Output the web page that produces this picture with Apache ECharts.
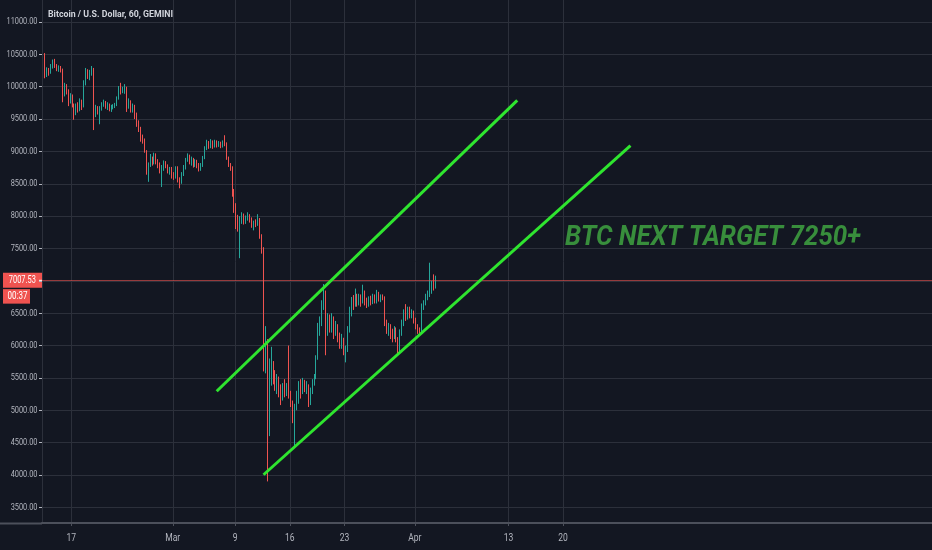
<!DOCTYPE html>
<html><head><meta charset="utf-8">
<script src="https://cdn.jsdelivr.net/npm/echarts@6/dist/echarts.min.js"></script>
<style>html,body{margin:0;padding:0;background:#131722}#c{width:932px;height:550px}</style>
</head><body><div id="c"></div>
<script>
// ---- data (6-hour candles) ----
const axisStartUTC = Date.UTC(2020, 1, 13, 6);
const stepHours = 6;
const categoryCount = 456;
const firstCandle = '02-13 12:00';

const opens = [
10380,10180,10250,10220,10310,10380,10330,10270,10290,10260,
9900,10010,9930,9780,9850,9720,9600,9700,9650,9760,
9700,10050,10240,10180,10230,10270,9600,9680,9620,9660,
9730,9760,9700,9720,9650,9680,9700,9720,9820,9980,
9940,9960,9980,9700,9750,9650,9700,9560,9430,9350,
9200,9170,9000,8680,8800,8900,8830,8950,8850,8800,
8700,8750,8830,8780,8700,8720,8640,8620,8700,8560,
8530,8650,8750,8880,8920,8850,8880,8790,8850,8800,
8740,8780,8900,9050,9110,9080,9130,9090,9140,9100,
9120,9090,9130,9120,8900,8800,8750,8400,8150,7950,
7900,7950,8000,7920,7960,8010,7950,7860,7900,7880,
7950,7700,7500,5700,6050,4700,5500,5700,5550,5420,
5480,5320,5200,5320,5280,5350,5250,5100,4900,5050,
5200,5350,5300,5400,5350,5380,5150,5300,5400,5500,
5800,6250,6350,6600,6800,6250,6400,6300,6420,6250,
6300,6150,6050,6100,5900,5950,6250,6500,6700,6650,
6760,6680,6750,6700,6820,6700,6650,6720,6680,6750,
6700,6800,6720,6760,6740,6350,6250,6300,6200,6150,
6250,6100,5950,6200,6350,6500,6450,6550,6480,6500,
6400,6300,6250,6200,6600,6650,6750,6800,6850,6950,6900];
const closes = [
10180,10250,10220,10310,10380,10330,10270,10290,10260,9900,
10010,9930,9780,9850,9720,9600,9700,9650,9760,9700,
10050,10240,10180,10230,10270,9600,9680,9620,9660,9730,
9760,9700,9720,9650,9680,9700,9720,9820,9980,9940,
9960,9980,9700,9750,9650,9700,9560,9430,9350,9200,
9170,9000,8680,8800,8900,8830,8950,8850,8800,8700,
8750,8830,8780,8700,8720,8640,8620,8700,8560,8530,
8650,8750,8880,8920,8850,8880,8790,8850,8800,8740,
8780,8900,9050,9110,9080,9130,9090,9140,9100,9120,
9090,9130,9120,8900,8800,8750,8400,8150,7950,7900,
7950,8000,7920,7960,8010,7950,7860,7900,7880,7950,
7700,7500,5700,6050,4700,5500,5700,5550,5420,5480,
5320,5200,5320,5280,5350,5250,5100,4900,5050,5200,
5350,5300,5400,5350,5380,5150,5300,5400,5500,5800,
6250,6350,6600,6800,6250,6400,6300,6420,6250,6300,
6150,6050,6100,5900,5950,6250,6500,6700,6650,6760,
6680,6750,6700,6820,6700,6650,6720,6680,6750,6700,
6800,6720,6760,6740,6350,6250,6300,6200,6150,6250,
6100,5950,6200,6350,6500,6450,6550,6480,6500,6400,
6300,6250,6200,6600,6650,6750,6800,6850,6950,6900,7007.53];
const lows = [
10130,10150,10170,10200,10280,10290,10240,10230,10220,9760,
9850,9880,9700,9740,9680,9490,9560,9600,9620,9640,
9680,10020,10120,10100,10170,9330,9530,9570,9420,9630,
9690,9660,9640,9620,9610,9650,9670,9700,9800,9880,
9900,9890,9610,9660,9600,9600,9500,9380,9300,9150,
9120,8980,8640,8530,8760,8780,8800,8800,8740,8660,
8450,8700,8740,8660,8640,8580,8560,8580,8520,8430,
8500,8620,8720,8840,8800,8780,8750,8760,8740,8690,
8700,8760,8880,9020,9040,9050,9040,9060,9060,9070,
9050,9060,9080,8870,8760,8700,8300,8050,7800,7760,
7350,7880,7870,7880,7930,7900,7820,7780,7830,7850,
7650,7420,5600,5570,3900,4600,5380,5400,5300,5250,
5200,5080,5150,5200,5220,5180,5050,4800,4440,5000,
5100,5180,5250,5280,5250,5050,5080,5250,5380,5480,
5780,6150,6300,6550,5850,6150,6200,6200,6100,6150,
6050,5950,5950,5850,5740,5900,6200,6450,6550,6600,
6600,6620,6600,6650,6620,6580,6600,6620,6640,6650,
6650,6680,6670,6700,6300,6180,6150,6100,6050,6100,
6050,5880,5900,6150,6300,6380,6400,6420,6420,6340,
6250,6180,6150,6180,6550,6620,6700,6750,6800,6850,6880];
const highs = [
10520,10300,10290,10350,10420,10430,10350,10330,10320,10280,
10060,10040,9960,9900,9880,9740,9740,9760,9820,9800,
10100,10290,10270,10260,10320,10290,9720,9700,9700,9760,
9800,9780,9760,9740,9720,9730,9750,9850,10010,10060,
10000,10040,10000,9820,9790,9740,9720,9600,9480,9380,
9260,9200,9020,8830,8960,8920,8980,8970,8880,8830,
8790,8860,8850,8800,8760,8760,8680,8770,8770,8600,
8680,8790,8900,8970,8950,8920,8900,8880,8870,8820,
8820,8930,9080,9180,9160,9190,9170,9180,9170,9160,
9150,9170,9250,9140,8920,8820,8770,8420,8200,8020,
8000,8060,8040,8010,8060,8030,7980,7930,7950,8030,
7970,7720,7520,6300,6100,5800,5980,5760,5620,5560,
5520,5400,5420,5480,5420,6000,5300,5150,5100,5300,
5450,5480,5500,5470,5450,5400,5350,5480,5560,5850,
6350,6450,6700,6950,6850,6500,6480,6500,6450,6380,
6330,6200,6180,6120,6000,6300,6600,6750,6780,6880,
6800,6800,6790,6940,6850,6740,6760,6770,6800,6790,
6860,6830,6790,6790,6760,6400,6350,6330,6260,6300,
6280,6130,6250,6400,6560,6640,6600,6600,6560,6540,
6430,6330,6280,6650,6700,6800,6850,7280,7000,7100,7080];

const lastPrice = 7007.53;
const countdownText = '00:37';
const tickDates = ['02-17 00:00','03-01 00:00','03-09 00:00','03-16 00:00','03-23 00:00','04-01 00:00','04-13 00:00','04-20 00:00'];
const tickLabels = ['17','Mar','9','16','23','Apr','13','20'];
const priceMin = 3500, priceMax = 11000, priceStep = 500;
const upperTrend = [['03-06 12:00', 5294], ['04-14 00:00', 9788]];
const lowerTrend = [['03-12 12:00', 4003], ['04-28 12:00', 9090]];
const titleText = 'Bitcoin / U.S. Dollar, 60, GEMINI';
const noteText = 'BTC NEXT TARGET 7250+';

// ---- build ----
const pad = n => String(n).padStart(2, '0');
const fmt = t => { const d = new Date(t); return pad(d.getUTCMonth() + 1) + '-' + pad(d.getUTCDate()) + ' ' + pad(d.getUTCHours()) + ':00'; };
const categories = [];
for (let k = 0; k < categoryCount; k++) categories.push(fmt(axisStartUTC + k * stepHours * 3600e3));
const offset = categories.indexOf(firstCandle);
const candleData = opens.map((o, i) => [categories[offset + i], o, closes[i], lows[i], highs[i]]);
const tickIndex = {};
tickDates.forEach((d, i) => { tickIndex[categories.indexOf(d)] = tickLabels[i]; });
const isTick = idx => tickIndex[idx] !== undefined;
const yTickValues = [];
for (let v = priceMin; v <= priceMax; v += priceStep) yTickValues.push(v);

const BG = '#131722', GRID = '#2c303b', TXT = '#b2b5be', AXIS = '#4c505b';
const UP = '#26a69a', DOWN = '#ef5350';

const mctx = document.createElement('canvas').getContext('2d');
const fitScale = (text, font, width) => { mctx.font = font; return width / mctx.measureText(text).width; };

const chart = echarts.init(document.getElementById('c'), null, { renderer: 'canvas' });
chart.setOption({
  backgroundColor: BG,
  animation: false,
  grid: [
    { left: 42, right: 0, top: 22, bottom: 42.7, containLabel: false, outerBoundsMode: 'none' },
    { left: 42, right: 0, top: 0, bottom: 27, containLabel: false, outerBoundsMode: 'none' }
  ],
  xAxis: [
    { type: 'category', gridIndex: 0, data: categories, show: false },
    { type: 'category', gridIndex: 1, data: categories,
      axisLine: { show: true, lineStyle: { color: AXIS, width: 2 } },
      axisTick: { show: true, length: 3, interval: isTick, lineStyle: { color: AXIS } },
      axisLabel: { show: false },
      splitLine: { show: true, interval: isTick, lineStyle: { color: GRID, width: 1 } } }
  ],
  yAxis: [
    { type: 'value', gridIndex: 0, min: priceMin, max: priceMax, interval: priceStep, position: 'left',
      axisLine: { show: false },
      axisTick: { show: true, length: 3, lineStyle: { color: TXT } },
      axisLabel: { show: false },
      splitLine: { show: true, lineStyle: { color: GRID, width: 1 } } },
    { type: 'value', gridIndex: 1, min: 0, max: 1, position: 'left',
      axisLine: { show: true, lineStyle: { color: GRID } },
      axisTick: { show: false }, axisLabel: { show: false }, splitLine: { show: false } }
  ],
  series: [
    { type: 'candlestick', xAxisIndex: 0, yAxisIndex: 0,
      dimensions: ['time', 'open', 'close', 'lowest', 'highest'],
      encode: { x: 'time', y: ['open', 'close', 'lowest', 'highest'] },
      data: candleData, barWidth: '55%',
      itemStyle: { color: UP, color0: DOWN, borderColor: UP, borderColor0: DOWN, borderWidth: 1 },
      markLine: { silent: true, symbol: 'none', label: { show: false },
        lineStyle: { color: 'rgba(239,83,80,0.6)', type: 'solid', width: 1 },
        data: [{ yAxis: lastPrice }] } },
    { type: 'line', xAxisIndex: 0, yAxisIndex: 0, data: upperTrend, symbol: 'none', z: 5,
      lineStyle: { color: '#2fe52f', width: 3 } },
    { type: 'line', xAxisIndex: 0, yAxisIndex: 0, data: lowerTrend, symbol: 'none', z: 5,
      lineStyle: { color: '#2fe52f', width: 3 } }
  ]
});

// ---- texts (narrowed to match the squeezed reference type) ----
const yFont = '9.5px Roboto';
const yScale = fitScale('11000.00', yFont, 31);
const xFont = '11px Roboto';
const xScale = fitScale('Mar', xFont, 15);
const titleFont = 'bold 9.5px Roboto';
const priceFont = '10px Roboto';
const noteFont = 'italic bold 27px Roboto';

const g = [];
g.push({ type: 'line', shape: { x1: 0, y1: 523.5, x2: 42, y2: 523.5 }, style: { stroke: AXIS, lineWidth: 2 } });
yTickValues.forEach(v => {
  const y = chart.convertToPixel({ yAxisIndex: 0 }, v);
  g.push({ type: 'text', x: 37.5, y: y, scaleX: yScale,
    style: { text: v.toFixed(2), fill: TXT, font: yFont, textAlign: 'right', textVerticalAlign: 'middle' } });
});
Object.keys(tickIndex).forEach(k => {
  const x = chart.convertToPixel({ xAxisIndex: 1 }, categories[+k]) - chart.getModel().getComponent('xAxis', 1).axis.getBandWidth() / 2;
  g.push({ type: 'text', x: x, y: 538.3, scaleX: xScale,
    style: { text: tickIndex[k], fill: TXT, font: xFont, textAlign: 'center', textVerticalAlign: 'middle' } });
});
g.push({ type: 'text', x: 48, y: 15, scaleX: fitScale(titleText, titleFont, 125),
  style: { text: titleText, fill: '#d1d4dc', font: titleFont, textVerticalAlign: 'middle' } });
g.push({ type: 'text', x: 565, y: 238, scaleX: fitScale(noteText, noteFont, 296),
  style: { text: noteText, fill: '#388e3c', font: noteFont, textVerticalAlign: 'middle' } });
const py = chart.convertToPixel({ yAxisIndex: 0 }, lastPrice);
g.push({ type: 'rect', shape: { x: 3, y: py - 7.5, width: 39.3, height: 15 }, style: { fill: DOWN } });
g.push({ type: 'text', x: 22.3, y: py, scaleX: fitScale(lastPrice.toFixed(2), priceFont, 27),
  style: { text: lastPrice.toFixed(2), fill: '#ffffff', font: priceFont, textAlign: 'center', textVerticalAlign: 'middle' } });
g.push({ type: 'line', shape: { x1: 39, y1: py, x2: 42, y2: py }, style: { stroke: '#ffffff', lineWidth: 1 } });
g.push({ type: 'rect', shape: { x: 3, y: py + 8.8, width: 27, height: 14.5 }, style: { fill: DOWN } });
g.push({ type: 'text', x: 17.6, y: py + 16.2, scaleX: fitScale(countdownText, priceFont, 20),
  style: { text: countdownText, fill: '#ffffff', font: priceFont, textAlign: 'center', textVerticalAlign: 'middle' } });
chart.setOption({ graphic: g });
</script></body></html>
